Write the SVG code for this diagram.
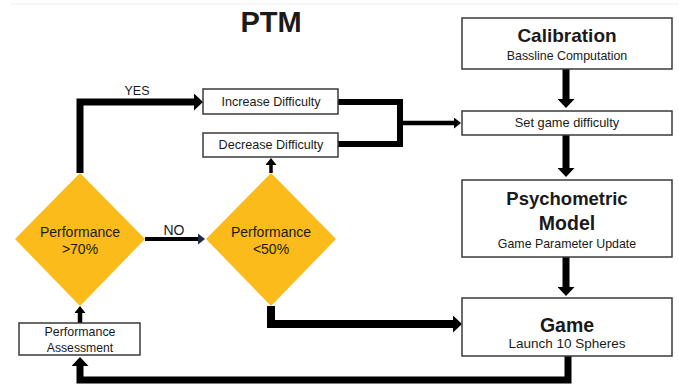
<svg xmlns="http://www.w3.org/2000/svg" width="679" height="392" viewBox="0 0 679 392">
<style>
.box{fill:#fff;stroke:#3a3a3a;stroke-width:1.5}
.dia{fill:#FBBB1A;stroke:none}
.t{font-family:"Liberation Sans",Arial,sans-serif;fill:#1a1a1a;text-anchor:middle}
.b{font-weight:bold}
.c{fill:none;stroke:#000;stroke-linejoin:miter}
</style>
<defs>
<marker id="ah" markerUnits="userSpaceOnUse" viewBox="0 0 9 17" refX="0" refY="8.5" markerWidth="9" markerHeight="17" orient="auto"><path d="M0,0 L9,8.5 L0,17 z" fill="#000"/></marker>
<marker id="as" markerUnits="userSpaceOnUse" viewBox="0 0 7 11" refX="0" refY="5.5" markerWidth="7" markerHeight="11" orient="auto"><path d="M0,0 L7,5.5 L0,11 z" fill="#000"/></marker>
<marker id="an" markerUnits="userSpaceOnUse" viewBox="0 0 7 11" refX="0" refY="5.5" markerWidth="7" markerHeight="11" orient="auto"><path d="M0,0 L7,5.5 L0,11 z" fill="#1F2A44"/></marker>
</defs>
<rect width="679" height="392" fill="#fff"/>
<line x1="10" y1="4" x2="679" y2="4" stroke="#eeeeee" stroke-width="1"/>
<text class="t b" x="271" y="32" font-size="29">PTM</text>

<g id="connectors">
<path class="c" d="M566,69 V99" stroke-width="7" marker-end="url(#ah)"/>
<path class="c" d="M566,135 V168" stroke-width="7" marker-end="url(#ah)"/>
<path class="c" d="M566,257 V287" stroke-width="7" marker-end="url(#ah)"/>
<path class="c" d="M80,173 V102 H194" stroke-width="7" marker-end="url(#ah)"/>
<path class="c" d="M338,102 H400 V144 H338" stroke-width="6"/>
<path class="c" d="M400,123 H454" stroke-width="4.5" marker-end="url(#as)"/>
<path class="c" d="M271,306 V324 H453" stroke-width="8" marker-end="url(#ah)"/>
<path class="c" d="M568,356 V380 H80 V366" stroke-width="7" marker-end="url(#ah)"/>
<path class="c" d="M80,323 V313" stroke-width="4.5" marker-end="url(#as)"/>
<path class="c" d="M271,173 V165" stroke-width="3.5" marker-end="url(#as)"/>
<path class="c" d="M145,239 H198" stroke="#1F2A44" stroke-width="4" marker-end="url(#an)"/>
<text class="t" x="137" y="95" font-size="12.5">YES</text>
<text class="t" x="174" y="235" font-size="14">NO</text>
</g>

<g id="calibration">
<rect class="box" x="462" y="18" width="210" height="51"/>
<text class="t b" x="567" y="42" font-size="19">Calibration</text>
<text class="t" x="567" y="60" font-size="12.4">Bassline Computation</text>
</g>
<g id="set-difficulty">
<rect class="box" x="462" y="111" width="210" height="24"/>
<text class="t" x="567" y="127" font-size="12.8">Set game difficulty</text>
</g>
<g id="psychometric">
<rect class="box" x="462" y="180" width="210" height="77"/>
<text class="t b" x="567" y="205" font-size="18.5">Psychometric</text>
<text class="t b" x="567" y="230" font-size="19.5">Model</text>
<text class="t" x="567" y="248" font-size="12.4">Game Parameter Update</text>
</g>
<g id="game">
<rect class="box" x="462" y="298" width="210" height="58"/>
<text class="t b" x="567" y="332" font-size="19.5">Game</text>
<text class="t" x="567" y="348" font-size="13.5">Launch 10 Spheres</text>
</g>
<g id="increase">
<rect class="box" x="203" y="89" width="135" height="25"/>
<text class="t" x="271" y="106" font-size="12.6">Increase Difficulty</text>
</g>
<g id="decrease">
<rect class="box" x="203" y="133" width="135" height="24"/>
<text class="t" x="271" y="149" font-size="12.6">Decrease Difficulty</text>
</g>
<g id="perf70">
<polygon class="dia" points="80,173 145,239 80,306 15,239"/>
<text class="t" x="80" y="237" font-size="14">Performance</text>
<text class="t" x="80" y="254" font-size="14">&gt;70%</text>
</g>
<g id="perf50">
<polygon class="dia" points="271,173 336,239 271,306 206,239"/>
<text class="t" x="271" y="237" font-size="14">Performance</text>
<text class="t" x="271" y="254" font-size="14">&lt;50%</text>
</g>
<g id="assessment">
<rect class="box" x="19" y="323" width="121" height="32"/>
<text class="t" x="80" y="336" font-size="12.4">Performance</text>
<text class="t" x="80" y="352" font-size="12.2">Assessment</text>
</g>
</svg>
